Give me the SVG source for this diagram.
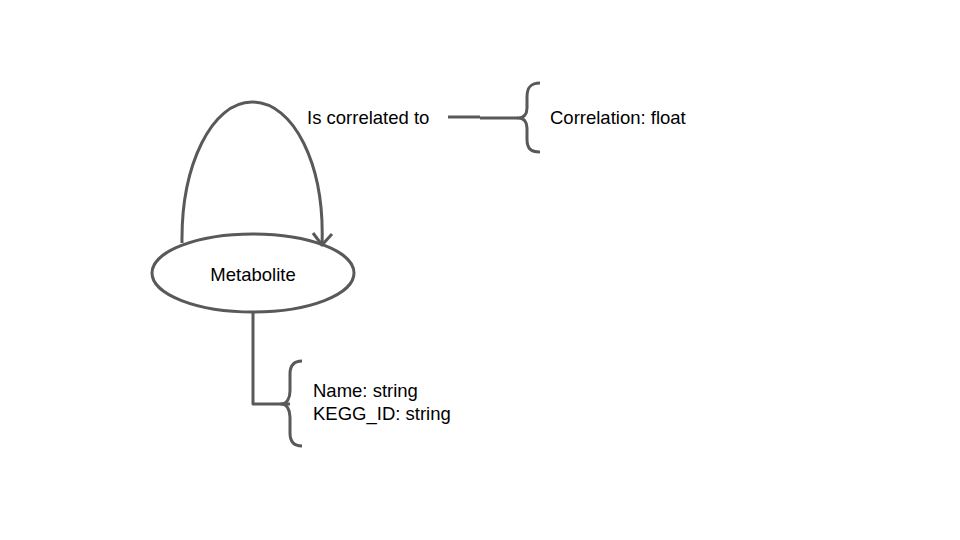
<svg xmlns="http://www.w3.org/2000/svg" width="960" height="540" viewBox="0 0 960 540">
<style>
.s{fill:none;stroke:#595959;stroke-width:3;stroke-linecap:butt;stroke-linejoin:round}
text{font-family:"Liberation Sans",Arial,sans-serif;font-size:18.5px;fill:#000}
</style>
<rect width="960" height="540" fill="#fff"/>
<g id="connectors">
<path class="s" d="M182,243 C181,165 212,102 252,102 C294,102 325,165 322,245"/>
<path class="s" d="M313,233 L322,245 L332,234"/>
<path class="s" d="M448,117 L480,117 M480,118 L518,118"/>
<path class="s" d="M253,312 L253,404 L290,404"/>
</g>
<g id="metabolite">
<ellipse class="s" cx="253" cy="273" rx="101" ry="39" fill="#fff"/>
<text x="253" y="281" text-anchor="middle">Metabolite</text>
</g>
<g id="rel-label">
<text x="307" y="124">Is correlated to</text>
</g>
<g id="rel-attrs">
<path class="s" d="M540,83 C530,83 527,88 527,97 L527,108 C527,114 524,118 518,118 C524,118 527,122 527,128 L527,139 C527,148 530,152 540,152"/>
<text x="550" y="124">Correlation: float</text>
</g>
<g id="node-attrs">
<path class="s" d="M302,361 C293,361 290,366 290,374 L290,391 C290,398 287,404 281,404 C287,404 290,410 290,417 L290,433 C290,441 293,446 302,446"/>
<text x="313" y="397">Name: string</text>
<text x="313" y="420">KEGG_ID: string</text>
</g>
</svg>
